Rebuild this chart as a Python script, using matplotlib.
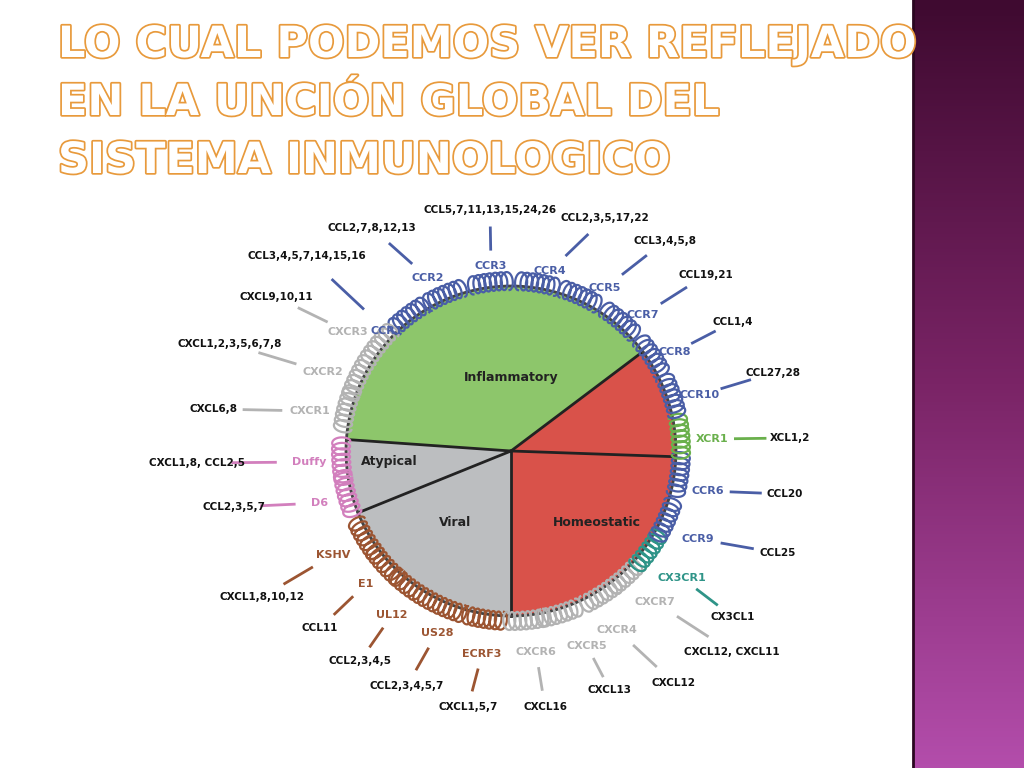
import numpy as np
import matplotlib.pyplot as plt
import matplotlib.patheffects as pe
from matplotlib.patches import Wedge, Circle

# sectors (degrees of the circle), counterclockwise starting at 37 deg
sectors = ["Inflammatory", "Atypical", "Viral", "Homeostatic"]
sector_deg = [139, 26, 68, 127]
sector_colors = ["#8dc66b", "#bcbec0", "#bcbec0", "#d9524a"]
sector_text_px = [(511, 378), (389, 461), (455, 522), (597, 523)]

receptors = ["CCR1", "CXCR3", "CXCR2", "CXCR1", "Duffy", "D6", "KSHV", "E1", "UL12", "US28",
             "ECRF3", "CXCR6", "CXCR5", "CXCR4", "CXCR7", "CX3CR1", "CCR9", "CCR6", "XCR1",
             "CCR10", "CCR8", "CCR7", "CCR5", "CCR4", "CCR3", "CCR2"]
coil_angle = [127, 141, 154, 166, 183, 195, 211, 222, 234, 247, 261, 275, 287, 302, 313, 324,
              336, 352, 5, 19, 34, 50, 66, 81, 97, 113]
groups = ["b", "g", "g", "g", "p", "p", "v", "v", "v", "v", "v", "g", "g", "g", "g", "t", "b",
          "b", "x", "b", "b", "b", "b", "b", "b", "b"]
ligands = ["CCL3,4,5,7,14,15,16", "CXCL9,10,11", "CXCL1,2,3,5,6,7,8", "CXCL6,8", "CXCL1,8, CCL2,5",
           "CCL2,3,5,7", "CXCL1,8,10,12", "CCL11", "CCL2,3,4,5", "CCL2,3,4,5,7", "CXCL1,5,7",
           "CXCL16", "CXCL13", "CXCL12", "CXCL12, CXCL11", "CX3CL1", "CCL25", "CCL20", "XCL1,2",
           "CCL27,28", "CCL1,4", "CCL19,21", "CCL3,4,5,8", "CCL2,3,5,17,22",
           "CCL5,7,11,13,15,24,26", "CCL2,7,8,12,13"]

# layout (pixel positions, y down)
rec_px = [(387, 331), (348, 332), (323, 372), (310, 411), (309, 462), (320, 503), (333, 555),
          (366, 584), (392, 615), (437, 633), (482, 654), (536, 652), (587, 646), (617, 630),
          (655, 602), (682, 578), (698, 539), (708, 491), (712, 439), (700, 395), (675, 352),
          (643, 315), (605, 288), (550, 271), (491, 266), (428, 278)]
lig_px = [(307, 256), (276, 297), (230, 344), (213, 409), (197, 463), (234, 507), (262, 597),
          (320, 628), (360, 661), (407, 686), (468, 707), (545, 707), (610, 690), (674, 683),
          (732, 652), (733, 617), (778, 553), (785, 494), (790, 438), (773, 373), (733, 322),
          (706, 275), (665, 241), (605, 218), (490, 210), (372, 228)]
colors = {"b": "#4a5ea6", "g": "#b3b3b3", "p": "#d27fbd", "v": "#9c5532", "x": "#6ab04c",
          "t": "#2f9488"}

H = 768
CX, CY, R = 511, H - 451, 165

fig = plt.figure(figsize=(10.24, 7.68), dpi=100)
ax = fig.add_axes([0, 0, 1, 1])
ax.set_xlim(0, 1024)
ax.set_ylim(0, H)
ax.axis("off")

# purple side strip
grad = np.linspace(0, 1, 256).reshape(-1, 1)
from matplotlib.colors import LinearSegmentedColormap
cm = LinearSegmentedColormap.from_list("p", ["#b34dab", "#7a2466", "#3f0a30"])
ax.imshow(grad, cmap=cm, extent=(913, 1024, 0, H), aspect="auto", origin="lower", zorder=0)
ax.plot([913, 913], [0, H], color="#2a0620", lw=2, zorder=1)

# title
title = ["LO CUAL PODEMOS VER REFLEJADO", "EN LA UNCIÓN GLOBAL DEL", "SISTEMA INMUNOLOGICO"]
for i, line in enumerate(title):
    t = ax.text(58, H - (45 + 58 * i), line, fontsize=31, fontweight="bold", color="white",
                ha="left", va="center", family="DejaVu Sans")
    t.set_path_effects([pe.Stroke(linewidth=2.5, foreground="#e89a3c"), pe.Normal()])

# sectors
start = 37
for name, deg, col, tp in zip(sectors, sector_deg, sector_colors, sector_text_px):
    ax.add_patch(Wedge((CX, CY), R, start, start + deg, facecolor=col, edgecolor="none", zorder=2))
    for a in (start,):
        ax.plot([CX, CX + R * np.cos(np.radians(a))], [CY, CY + R * np.sin(np.radians(a))],
                color="#222222", lw=2, zorder=3)
    ax.text(tp[0], H - tp[1], name, fontsize=9, fontweight="bold", ha="center", va="center",
            color="#222222", zorder=4)
    start += deg
ax.plot([CX, CX + R * np.cos(np.radians(-2))], [CY, CY + R * np.sin(np.radians(-2))],
        color="#222222", lw=2, zorder=3)
ax.add_patch(Circle((CX, CY), R, facecolor="none", edgecolor="#444444", lw=2, zorder=3))

# receptors
for name, ang, grp, lig, rp, lp in zip(receptors, coil_angle, groups, ligands, rec_px, lig_px):
    c = colors[grp]
    phi = np.linspace(0, 2 * np.pi * 7, 500)
    s = phi / phi.max()
    th = np.radians(ang) + np.radians(13) * (s - 0.5) - (4.5 / R) * np.sin(phi)
    r = R - 4 + 9 * (1 - np.cos(phi))
    ax.plot(CX + r * np.cos(th), CY + r * np.sin(th), color=c, lw=1.6, zorder=5)
    ax.text(rp[0], H - rp[1], name, fontsize=8, fontweight="bold", color=c, ha="center",
            va="center", zorder=6)
    p0 = np.array(rp, float) + 0.3 * (np.array(lp, float) - np.array(rp, float))
    p1 = np.array(rp, float) + 0.68 * (np.array(lp, float) - np.array(rp, float))
    ax.plot([p0[0], p1[0]], [H - p0[1], H - p1[1]], color=c, lw=2, zorder=5)
    ax.text(lp[0], H - lp[1], lig, fontsize=7.5, fontweight="bold", color="#111111",
            ha="center", va="center", zorder=6)

fig.savefig("out.png", dpi=100)
